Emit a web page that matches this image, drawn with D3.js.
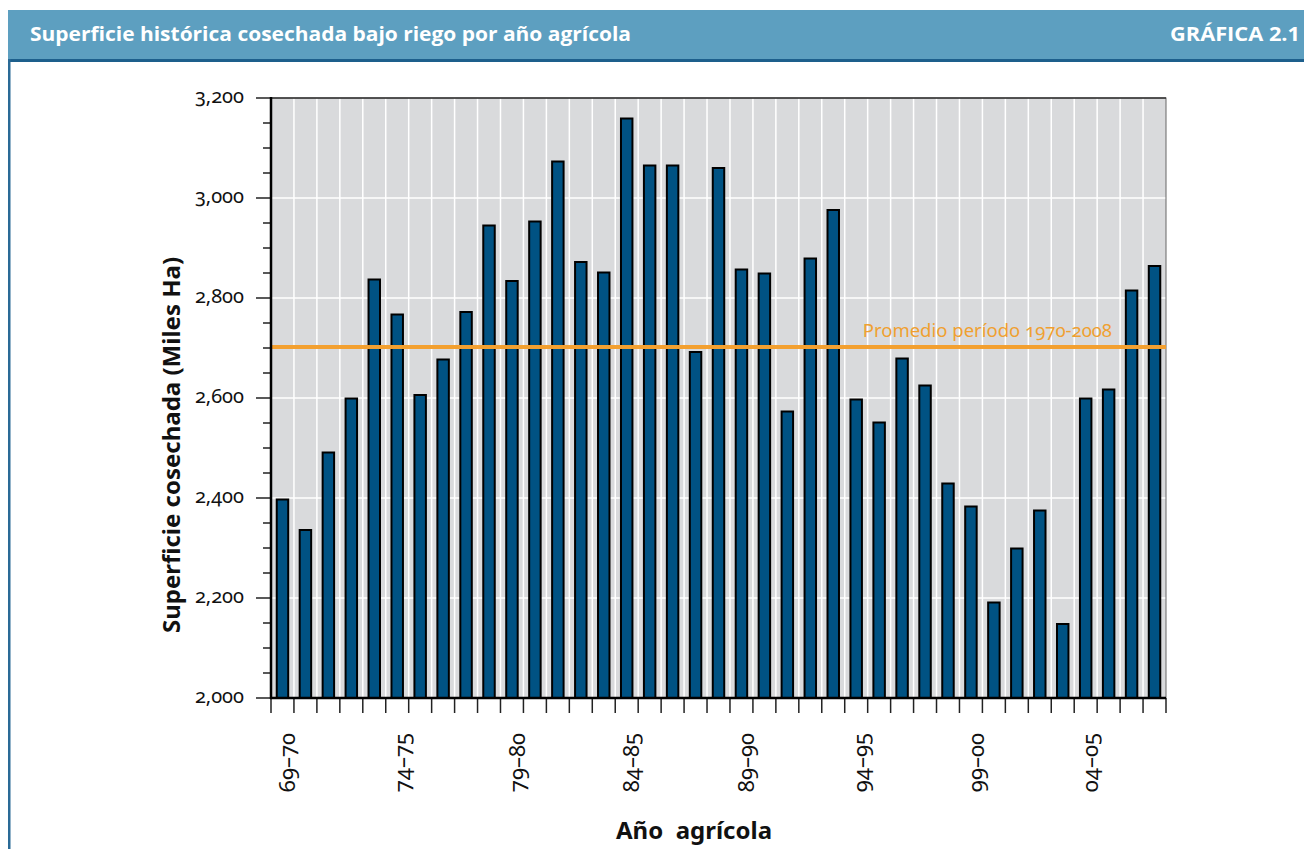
<!DOCTYPE html>
<html><head><meta charset="utf-8">
<script src="https://cdn.jsdelivr.net/npm/d3@7"></script>
<style>
html,body{margin:0;padding:0;background:#fff;}
svg{display:block;}
.num{font-family:"Noto Sans",sans-serif;font-variant-numeric:oldstyle-nums;font-feature-settings:"onum" 1;}
</style></head>
<body>
<svg id="chart" width="1304" height="849"></svg>
<script>
const categories = ["69–70","70–71","71–72","72–73","73–74","74–75","75–76","76–77","77–78","78–79",
  "79–80","80–81","81–82","82–83","83–84","84–85","85–86","86–87","87–88","88–89",
  "89–90","90–91","91–92","92–93","93–94","94–95","95–96","96–97","97–98","98–99",
  "99–00","00–01","01–02","02–03","03–04","04–05","05–06","06–07","07–08"];
const values = [2397,2336,2491,2599,2837,2767,2606,2677,2772,2945,
  2834,2953,3073,2872,2851,3159,3065,3065,2692,3060,
  2857,2849,2573,2879,2976,2597,2551,2679,2625,2429,
  2383,2191,2299,2375,2148,2599,2617,2815,2864];
const shownLabels = ["69–70","74–75","79–80","84–85","89–90","94–95","99–00","04–05"];
const yTicks = [2000,2200,2400,2600,2800,3000,3200];
const yMinorTicks = d3.range(2000,3201,50);
const average = 2702;
const averageLabel = "Promedio período 1970-2008";
const title = "Superficie histórica cosechada bajo riego por año agrícola";
const chartId = "GRÁFICA 2.1";
const yTitle = "Superficie cosechada (Miles Ha)";
const xTitle = "Año  agrícola";

const svg = d3.select("#chart");
const L = 271, R = 1166, T = 98, B = 698;

// header
svg.append("rect").attr("x",8).attr("y",10).attr("width",1296).attr("height",50).attr("fill","#5d9fc0");
svg.append("rect").attr("x",8).attr("y",59).attr("width",1296).attr("height",3).attr("fill","#1d5f8c");
svg.append("rect").attr("x",8).attr("y",59).attr("width",2.5).attr("height",790).attr("fill","#2a6a96");
svg.append("text").attr("x",30).attr("y",41).attr("fill","#fff")
  .attr("font-family","'Liberation Sans Narrow','Open Sans',sans-serif").attr("font-weight","bold")
  .attr("font-size",20).attr("textLength",601).attr("lengthAdjust","spacingAndGlyphs").text(title);
svg.append("text").attr("x",1300).attr("y",41).attr("fill","#fff").attr("text-anchor","end")
  .attr("font-family","'Liberation Sans Narrow','Open Sans',sans-serif").attr("font-weight","bold")
  .attr("font-size",20).attr("textLength",130).attr("lengthAdjust","spacingAndGlyphs").text(chartId);

const x = d3.scaleBand().domain(categories).range([L,R]).paddingInner(0.5).paddingOuter(0.25);
const y = d3.scaleLinear().domain([2000,3200]).range([B,T]);
const step = x.step();
const edge = d => x(d) + x.bandwidth()/2 - step/2;

// plot background
svg.append("rect").attr("x",L).attr("y",T).attr("width",R-L).attr("height",B-T).attr("fill","#d9dadc");
// vertical grid
svg.append("g").selectAll("line").data(categories.slice(1)).join("line")
  .attr("x1",edge).attr("x2",edge).attr("y1",T).attr("y2",B)
  .attr("stroke","#fff").attr("stroke-width",1.5);
// horizontal grid
svg.append("g").selectAll("line").data(yTicks.slice(1,-1)).join("line")
  .attr("x1",L).attr("x2",R).attr("y1",d=>y(d)).attr("y2",d=>y(d))
  .attr("stroke","#fff").attr("stroke-width",1.5);
// frame
svg.append("rect").attr("x",L).attr("y",T).attr("width",R-L).attr("height",B-T)
  .attr("fill","none").attr("stroke","#666").attr("stroke-width",1);
svg.append("line").attr("x1",L).attr("x2",R).attr("y1",T).attr("y2",T).attr("stroke","#333").attr("stroke-width",1.5);

// bars
svg.append("g").selectAll("rect").data(values).join("rect")
  .attr("x",(d,i)=>x(categories[i])).attr("width",x.bandwidth())
  .attr("y",d=>y(d)).attr("height",d=>B-y(d))
  .attr("fill","#005283").attr("stroke","#000").attr("stroke-width",2);

// average line
svg.append("line").attr("x1",L).attr("x2",R).attr("y1",y(average)).attr("y2",y(average))
  .attr("stroke","#f3a030").attr("stroke-width",4);
svg.append("text").attr("class","num").attr("x",1112).attr("y",y(average)-10).attr("text-anchor","end")
  .attr("fill","#f0a030").attr("font-size",18.5).text(averageLabel);

// y axis
svg.append("g").selectAll("line").data(yMinorTicks).join("line")
  .attr("x1",d=> d%200===0 ? L-15 : L-8).attr("x2",L).attr("y1",d=>y(d)).attr("y2",d=>y(d))
  .attr("stroke","#222").attr("stroke-width",1.5);
svg.append("g").selectAll("text").data(yTicks).join("text").attr("class","num")
  .attr("x",244).attr("y",d=>y(d)+5).attr("text-anchor","end").attr("font-size",20).attr("fill","#111")
  .text(d=>d3.format(",")(d));
svg.append("line").attr("x1",L).attr("x2",L).attr("y1",T-1).attr("y2",B+1).attr("stroke","#000").attr("stroke-width",2.5);

// x axis
const xTickPos = categories.map(edge).concat([R]);
svg.append("g").selectAll("line").data(xTickPos).join("line")
  .attr("x1",d=>d).attr("x2",d=>d).attr("y1",B).attr("y2",B+15)
  .attr("stroke","#222").attr("stroke-width",1.5);
svg.append("line").attr("x1",L-1).attr("x2",R).attr("y1",B).attr("y2",B).attr("stroke","#000").attr("stroke-width",2.5);
svg.append("g").selectAll("text").data(shownLabels).join("text").attr("class","num")
  .attr("transform",d=>`translate(${x(d)+x.bandwidth()/2+5},733) rotate(-90)`)
  .attr("text-anchor","end").attr("dy","0.35em").attr("font-size",22).attr("fill","#111")
  .text(d=>d);

// axis titles
svg.append("text").attr("transform",`translate(180,445) rotate(-90)`).attr("text-anchor","middle")
  .attr("font-family","'Noto Sans',sans-serif").attr("font-weight","bold").attr("font-size",24).attr("fill","#111")
  .text(yTitle);
svg.append("text").attr("x",694).attr("y",839).attr("text-anchor","middle").attr("xml:space","preserve")
  .attr("font-family","'Noto Sans',sans-serif").attr("font-weight","bold").attr("font-size",24).attr("fill","#111")
  .style("white-space","pre").text(xTitle);
</script>
</body></html>
